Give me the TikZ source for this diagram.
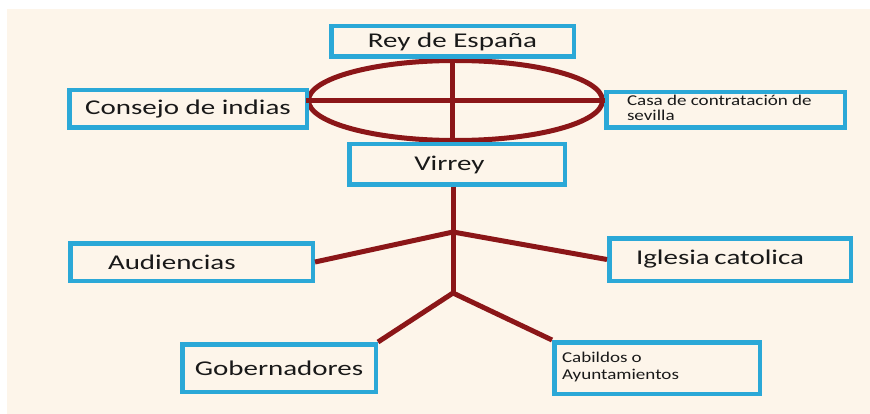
\documentclass[tikz,border=0pt]{standalone}
\usepackage{fontspec}
\setmainfont{Carlito}
\usetikzlibrary{shapes.geometric}
\definecolor{cream}{RGB}{253,245,234}
\definecolor{boxblue}{RGB}{43,168,215}
\definecolor{darkred}{RGB}{139,22,24}
\definecolor{ink}{RGB}{25,25,25}
\newcommand{\bigtxt}[1]{\scalebox{1.38}[1]{\fontsize{21}{25}\selectfont #1}}
\newcommand{\smalltxt}[2]{\scalebox{1.27}[1]{\fontsize{15}{#2}\selectfont\begin{tabular}{@{}l@{}}#1\end{tabular}}}
\begin{document}
\begin{tikzpicture}[x=1pt,y=-1pt,
  box/.style={draw=boxblue, line width=4.5pt, text=ink, inner ysep=0pt},
  leftbox/.style={box, align=left, inner xsep=#1},
  link/.style={draw=darkred, line width=5pt}]
\useasboundingbox (0,0) rectangle (870,414);
\fill[white] (0,0) rectangle (870,414);
\fill[cream] (7,9) rectangle (870,414);

% ellipse with cross
\node[draw=darkred, line width=5pt, ellipse, inner sep=0pt,
      minimum width=294pt, minimum height=80pt] (ell) at (455.5,100.5) {};

% boxes
\node[box, minimum width=242.5pt, minimum height=30.5pt] (rey) at (452.5,41.5) {\bigtxt{Rey de España}};
\node[box, minimum width=237.5pt, minimum height=37.5pt] (consejo) at (188,109) {\bigtxt{Consejo de indias}};
\node[leftbox=20.75pt, text width=197pt, minimum height=35.5pt] (casa) at (725.5,110)
  {\smalltxt{Casa de contratación de\\sevilla}{15}};
\node[leftbox=65pt, text width=85.5pt, minimum height=40.5pt] (virrey) at (457,164.5) {\bigtxt{Virrey}};
\node[leftbox=37.75pt, text width=167pt, minimum height=37.5pt] (aud) at (191.5,262) {\bigtxt{Audiencias}};
\node[leftbox=26.75pt, text width=188pt, minimum height=42.5pt] (igl) at (730,259.5) {\bigtxt{Iglesia catolica}};
\node[box, minimum width=193.5pt, minimum height=47.5pt] (gob) at (279,368) {\bigtxt{Gobernadores}};
\node[leftbox=7.75pt, text width=190pt, minimum height=51.5pt] (cab) at (657,368)
  {\smalltxt{Cabildos o\\Ayuntamientos}{17}};

% cross in the ellipse
\draw[link] (rey.south) -- (rey.south |- virrey.north);
\draw[link] (ell.west) -- (ell.east);

% tree below Virrey
\coordinate (j1) at (453,232);
\coordinate (j2) at (453,293);
\draw[link] (j1 |- virrey.south) -- (j1) -- (j2);
\draw[link] (j1) -- (aud.east);
\draw[link] (j1) -- (igl.west);
\draw[link] (j2) -- (gob.north east);
\draw[link] (j2) -- (cab.north west);
\end{tikzpicture}
\end{document}
